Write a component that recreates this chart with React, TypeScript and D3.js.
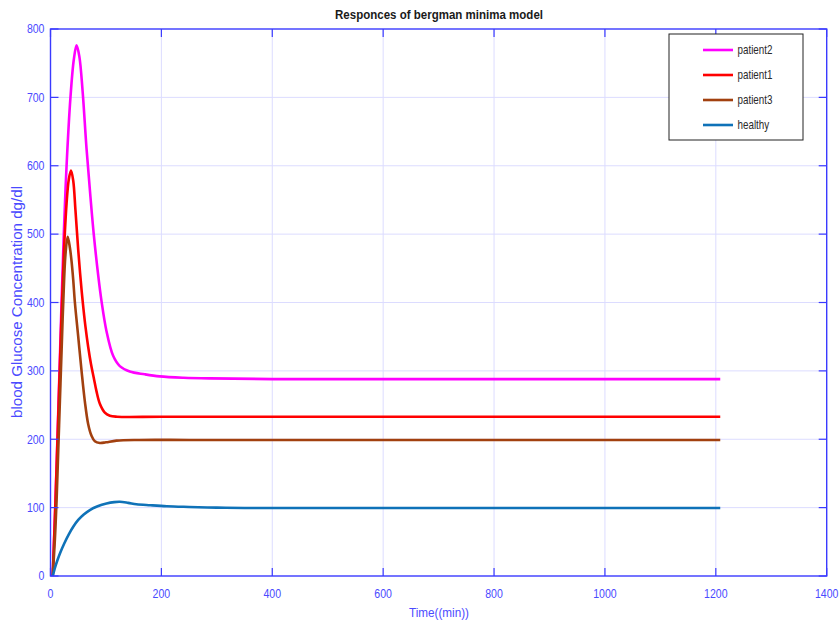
import React from 'react';
import * as d3 from 'd3';

// ---- data ----
const xTicks = [0, 200, 400, 600, 800, 1000, 1200, 1400];
const yTicks = [0, 100, 200, 300, 400, 500, 600, 700, 800];

const seriesNames = ['patient2', 'patient1', 'patient3', 'healthy'];

const patient2Time = [4, 9, 14, 19, 24, 29, 36, 42, 47, 52, 58, 65, 72, 78, 86, 92, 101, 113, 125, 143, 170, 197, 240, 288, 400, 600, 800, 1000, 1208];
const patient2Value = [0, 110, 240, 375, 500, 600, 700, 755, 776, 760, 708, 625, 555, 500, 440, 402, 358, 322, 307, 299, 295, 292, 290, 289, 288, 288, 288, 288, 288];

const patient1Time = [4, 9, 14, 19, 24, 29, 33, 37, 41, 45, 50, 54, 58, 63, 68, 73, 78, 83, 89, 98, 107, 120, 200, 400, 600, 800, 1000, 1208];
const patient1Value = [0, 110, 235, 360, 470, 545, 580, 593, 578, 535, 477, 437, 402, 365, 335, 310, 290, 270, 252, 239, 234.5, 233, 233, 233, 233, 233, 233, 233];

const patient3Time = [4, 8, 11, 14, 17, 20, 23, 27, 31, 35, 38, 41, 44, 50, 56, 62, 68, 74, 80, 89, 100, 119, 160, 250, 400, 600, 800, 1000, 1208];
const patient3Value = [0, 55, 111, 184, 257, 330, 400, 470, 496, 480, 460, 433, 400, 350, 300, 255, 222, 205, 197, 194.5, 195.5, 198, 199, 199, 199, 199, 199, 199, 199];

const healthyTime = [4, 8, 12, 17, 25, 33, 41, 50, 60, 71, 85, 101, 115, 125, 140, 155, 180, 210, 250, 300, 350, 500, 700, 900, 1208];
const healthyValue = [0, 12, 22, 33, 48, 61, 72, 82, 90, 96.5, 102, 106, 108, 108.5, 107, 105, 103.5, 102, 101, 100, 99.5, 99.5, 99.5, 99.5, 99.5];

const seriesTimes = [patient2Time, patient1Time, patient3Time, healthyTime];
const seriesValues = [patient2Value, patient1Value, patient3Value, healthyValue];

// ---- style ----
const W = 840;
const H = 626;
const M = { left: 50.5, right: 826.7, top: 29, bottom: 576 };
const COLORS = ['#ff00ff', '#ff0000', '#a2400f', '#0f72b8'];
const AXIS = '#3a3aff';
const TICKTXT = '#4a4aff';
const GRID = '#dcdcff';
const FONT = '"Liberation Sans", Arial, sans-serif';

export default function App() {
  const x = d3.scaleLinear().domain([0, 1400]).range([M.left, M.right]);
  const y = d3.scaleLinear().domain([0, 800]).range([M.bottom, M.top]);

  const line = d3
    .line<[number, number]>()
    .x((d) => x(d[0]))
    .y((d) => y(d[1]))
    .curve(d3.curveCatmullRom.alpha(0.5));

  const tickLen = 8;

  return (
    <div style={{ position: 'absolute', left: 0, top: 0, width: W, height: H }}>
      <svg width={W} height={H} style={{ display: 'block', background: '#fff' }}>
        <rect x={0} y={0} width={W} height={H} fill="#fff" />
        {/* grid */}
        {xTicks.slice(1, -1).map((t) => (
          <line key={'gx' + t} x1={x(t)} x2={x(t)} y1={M.top} y2={M.bottom} stroke={GRID} strokeWidth={1} />
        ))}
        {yTicks.slice(1, -1).map((t) => (
          <line key={'gy' + t} x1={M.left} x2={M.right} y1={y(t)} y2={y(t)} stroke={GRID} strokeWidth={1} />
        ))}

        {/* series */}
        {seriesNames.map((name, i) => {
          const pts: [number, number][] = seriesTimes[i].map((t, j) => [t, seriesValues[i][j]]);
          return (
            <path key={name} d={line(pts) || ''} fill="none" stroke={COLORS[i]} strokeWidth={2.6} strokeLinejoin="round" />
          );
        })}

        {/* axes box */}
        <rect x={M.left} y={M.top} width={M.right - M.left} height={M.bottom - M.top} fill="none" stroke={AXIS} strokeWidth={1.4} />
        {xTicks.map((t) => (
          <g key={'tx' + t}>
            <line x1={x(t)} x2={x(t)} y1={M.bottom} y2={M.bottom - tickLen} stroke={AXIS} strokeWidth={1.2} />
            <line x1={x(t)} x2={x(t)} y1={M.top} y2={M.top + tickLen} stroke={AXIS} strokeWidth={1.2} />
            <text
              transform={`translate(${x(t)},${598}) scale(0.88,1)`}
              textAnchor="middle"
              fontFamily={FONT}
              fontSize={12}
              fill={TICKTXT}
            >
              {t}
            </text>
          </g>
        ))}
        {yTicks.map((t) => (
          <g key={'ty' + t}>
            <line x1={M.left} x2={M.left + tickLen} y1={y(t)} y2={y(t)} stroke={AXIS} strokeWidth={1.2} />
            <line x1={M.right} x2={M.right - tickLen} y1={y(t)} y2={y(t)} stroke={AXIS} strokeWidth={1.2} />
            <text
              transform={`translate(${44.5},${y(t) + 4.3}) scale(0.88,1)`}
              textAnchor="end"
              fontFamily={FONT}
              fontSize={12}
              fill={TICKTXT}
            >
              {t}
            </text>
          </g>
        ))}

        {/* title */}
        <text x={439} y={18.5} textAnchor="middle" fontFamily={FONT} fontSize={13} fontWeight="bold" fill="#1a1a1a" textLength={208} lengthAdjust="spacingAndGlyphs">
          Responces of bergman minima model
        </text>

        {/* axis labels */}
        <text x={439} y={617} textAnchor="middle" fontFamily={FONT} fontSize={13.5} fill={TICKTXT} textLength={60} lengthAdjust="spacingAndGlyphs">
          Time((min))
        </text>
        <text
          transform={`translate(22,302) rotate(-90)`}
          textAnchor="middle"
          fontFamily={FONT}
          fontSize={15}
          fill={TICKTXT}
          textLength={232}
          lengthAdjust="spacingAndGlyphs"
        >
          blood Glucose Concentration dg/dl
        </text>

        {/* legend */}
        <rect x={669} y={34} width={134} height={106} fill="#fff" stroke="#222" strokeWidth={1} />
        {seriesNames.map((name, i) => {
          const ly = 50 + i * 25;
          return (
            <g key={'lg' + name}>
              <line x1={703} x2={733} y1={ly} y2={ly} stroke={COLORS[i]} strokeWidth={2.6} />
              <text transform={`translate(737.5,${ly + 4}) scale(0.82,1)`} fontFamily={FONT} fontSize={12} fill="#2a2a2a">
                {name}
              </text>
            </g>
          );
        })}
      </svg>
    </div>
  );
}
